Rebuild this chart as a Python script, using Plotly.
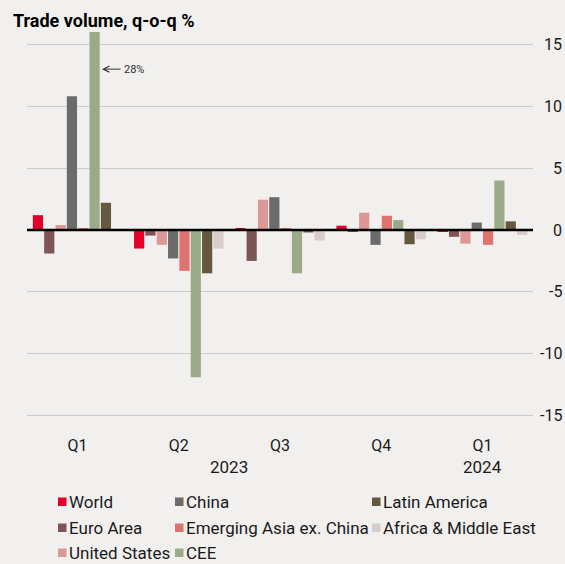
import plotly.graph_objects as go

# ---------------- data ----------------
years = ["2023", "2023", "2023", "2023", "2024"]
quarters = ["Q1", "Q2", "Q3", "Q4", "Q1"]
year_labels = ["2023", "2024"]
year_label_pos = [1.5, 4.0]   # category index under which each year label sits

series_names = ["World", "Euro Area", "United States", "China",
                "Emerging Asia ex. China", "CEE", "Latin America",
                "Africa & Middle East"]
world = [1.2, -1.5, 0.1, 0.35, -0.1]
euro_area = [-1.9, -0.45, -2.5, -0.1, -0.55]
united_states = [0.4, -1.2, 2.45, 1.4, -1.1]
china = [10.8, -2.3, 2.65, -1.2, 0.6]
emerging_asia = [0.1, -3.3, 0.15, 1.15, -1.2]
cee = [28.0, -11.9, -3.5, 0.8, 4.0]
latin_america = [2.2, -3.5, -0.2, -1.15, 0.7]
africa_me = [0.0, -1.5, -0.85, -0.75, -0.4]

y_ticks = [-15, -10, -5, 0, 5, 10, 15]
y_tick_text = ["-15", "-10", "-5", "0", "5", "10", "15"]
annot_label = "28%"
annot_value = 13.0

title_text = "Trade volume, q-o-q %"

# ---------------- style ----------------
colors = ["#E4002B", "#7E5457", "#DC9797", "#6B6B6B",
          "#E0736E", "#9BAA88", "#66573F", "#D8CCCC"]
series_values = [world, euro_area, united_states, china,
                 emerging_asia, cee, latin_america, africa_me]

W, H = 565, 564
L, R, T, B = 27, 32, 32, 136
PW, PH = W - L - R, H - T - B
BG = "#F2F0EE"
FONT = "Roboto"
TXT = "#1A1A1A"

cat_ids = [y + " " + q for y, q in zip(years, quarters)]


def px_x(px):
    return (px - L) / PW


def px_y(py):
    return (H - B - py) / PH


fig = go.Figure()
for name, vals, col in zip(series_names, series_values, colors):
    fig.add_trace(go.Bar(
        x=cat_ids, y=vals, name=name,
        marker=dict(color=col, line=dict(width=0)),
        showlegend=False,
    ))

shapes = []
annotations = []

# zero line on top of bars
shapes.append(dict(type="line", xref="paper", x0=0, x1=1, yref="y", y0=0, y1=0,
                   line=dict(color="#000000", width=2.5), layer="above"))

# right-aligned y tick labels
for v, t in zip(y_ticks, y_tick_text):
    annotations.append(dict(text=t, xref="paper", x=px_x(564), xanchor="right",
                            yref="y", y=v, yanchor="middle", showarrow=False,
                            font=dict(family=FONT, size=16, color=TXT)))

# year labels under the quarter labels
for yl, pos in zip(year_labels, year_label_pos):
    annotations.append(dict(text=yl, xref="x", x=pos, xanchor="center",
                            yref="paper", y=px_y(467), yanchor="middle", showarrow=False,
                            font=dict(family=FONT, size=17, color=TXT)))

# title
annotations.append(dict(text="<b>" + title_text + "</b>", xref="paper", x=px_x(11),
                        xanchor="left", yref="paper", y=px_y(20), yanchor="middle",
                        showarrow=False, font=dict(family=FONT, size=18, color="#000000")))

# 28% annotation (CEE Q1 clipped)
annotations.append(dict(text=annot_label, xref="paper", x=px_x(102), yref="y", y=annot_value,
                        showarrow=True, ax=32, ay=0, arrowhead=5, arrowsize=1.2,
                        arrowwidth=1, arrowcolor="#333333", standoff=0, startstandoff=2,
                        font=dict(family=FONT, size=11, color="#333333")))

# manual legend laid out in three columns
col_marker_x = [58, 175, 372]
row_y = [502, 528, 553]
for i, (name, col) in enumerate(zip(series_names, colors)):
    c, r = i // 3, i % 3
    mx, my = col_marker_x[c], row_y[r]
    shapes.append(dict(type="rect", xref="paper", yref="paper",
                       x0=px_x(mx), x1=px_x(mx + 8.5), y0=px_y(my + 4), y1=px_y(my - 4.5),
                       fillcolor=col, line=dict(width=0)))
    annotations.append(dict(text=name, xref="paper", x=px_x(mx + 8.5), xanchor="left",
                            yref="paper", y=px_y(my), yanchor="middle", showarrow=False,
                            font=dict(family=FONT, size=17, color=TXT)))

fig.update_layout(
    width=W, height=H,
    margin=dict(l=L, r=R, t=T, b=B, pad=0),
    paper_bgcolor=BG, plot_bgcolor=BG,
    barmode="group", bargap=0.104, bargroupgap=0.1,
    shapes=shapes, annotations=annotations,
    showlegend=False,
    font=dict(family=FONT, size=16, color=TXT),
)
fig.update_xaxes(
    type="category", tickvals=cat_ids, ticktext=quarters,
    showgrid=False, zeroline=False, showline=False, ticks="",
    tickfont=dict(family=FONT, size=16, color=TXT), ticklabelstandoff=6,
)
fig.update_yaxes(
    range=[-16, 16], tickvals=y_ticks, showticklabels=False, showgrid=True,
    gridcolor="#CCCCCC", gridwidth=1, zeroline=False, showline=False, ticks="",
)

fig.write_html(
    "out.html",
    config={"displayModeBar": False},
    post_script="document.body.style.margin='0';document.body.style.overflow='hidden';",
)
